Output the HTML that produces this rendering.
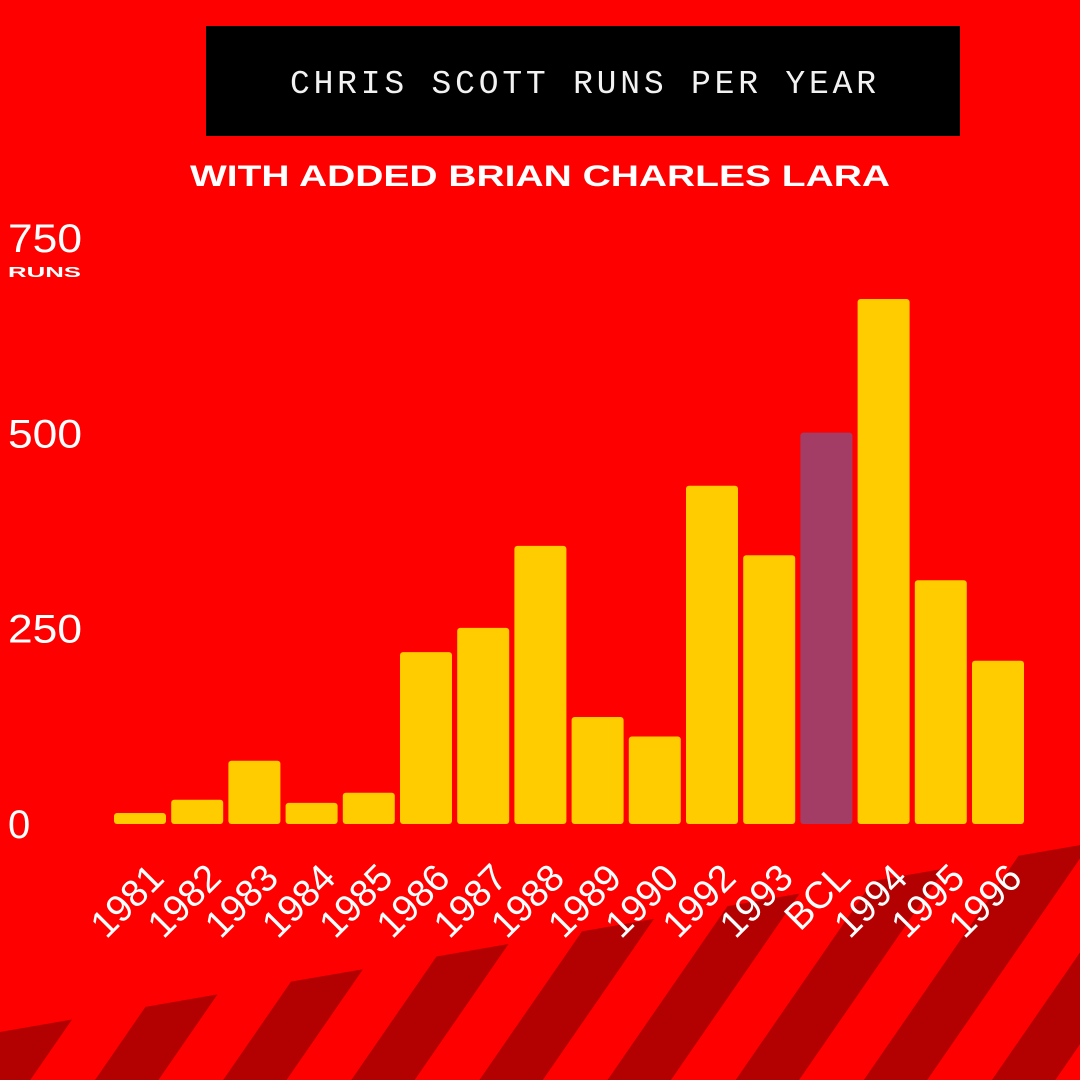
<!DOCTYPE html>
<html><head><meta charset="utf-8"><style>
html,body{margin:0;padding:0;background:#ff0000;}
svg{display:block;}
</style></head><body>
<svg id="chart" width="1080" height="1080" viewBox="0 0 1080 1080" xmlns="http://www.w3.org/2000/svg">
<rect x="0" y="0" width="1080" height="1080" fill="#ff0000"/>
<g id="stripes"></g>
<rect x="206" y="26" width="754" height="110" fill="#000"/>
<text x="290" y="93" textLength="586" lengthAdjust="spacing" fill="#f2f2f2" font-family="Liberation Mono, monospace" font-size="33">CHRIS SCOTT RUNS PER YEAR</text>
<text x="190" y="186" textLength="700" lengthAdjust="spacingAndGlyphs" fill="#fff" font-family="Liberation Sans, sans-serif" font-weight="bold" font-size="30">WITH ADDED BRIAN CHARLES LARA</text>
<text x="8" y="277" textLength="73" lengthAdjust="spacingAndGlyphs" fill="#fff" font-family="Liberation Sans, sans-serif" font-weight="bold" font-size="15">RUNS</text>
<g id="yticks"></g>
<g id="bars"></g>
<g id="xlabels"></g>
</svg>
<script>
const categories = ["1981","1982","1983","1984","1985","1986","1987","1988","1989","1990","1992","1993","BCL","1994","1995","1996"];
const runs = [14,31,81,27,40,220,251,356,137,112,433,344,501,672,312,209];
const highlight = ["BCL"];
const yTicks = [0,250,500,750];

const NS = "http://www.w3.org/2000/svg";
const baseY = 824, pxPerRun = 0.7813;
const y = v => baseY - v * pxPerRun;
const barLeft0 = 114, pitch = 57.2, barW = 52;
const x = i => barLeft0 + i * pitch;

const sg = document.getElementById('stripes');
for (let i = 0; i < 9; i++) {
  const x0 = i * 145.5, x1 = x0 + 72;
  const t0 = 1032 - 0.173 * x0, t1 = 1032 - 0.173 * x1;
  const b0 = x0 - 0.69 * (1080 - t0), b1 = x1 - 0.69 * (1080 - t1);
  const p = document.createElementNS(NS, 'polygon');
  p.setAttribute('points', `${x0},${t0} ${x1},${t1} ${b1},1080 ${b0},1080`);
  p.setAttribute('fill', '#b30000');
  
  
  sg.appendChild(p);
}

const yg = document.getElementById('yticks');
yTicks.forEach(t => {
  const tx = document.createElementNS(NS, 'text');
  tx.setAttribute('x', 8);
  tx.setAttribute('y', y(t) + 14);
  tx.setAttribute('fill', '#fff');
  tx.setAttribute('font-family', 'Liberation Sans, sans-serif');
  tx.setAttribute('font-size', '40');
  if (t > 0) { tx.setAttribute('textLength', '74'); tx.setAttribute('lengthAdjust', 'spacingAndGlyphs'); }
  tx.textContent = t;
  
  
  yg.appendChild(tx);
});

const bg = document.getElementById('bars');
const xg = document.getElementById('xlabels');
categories.forEach((c, i) => {
  const r = document.createElementNS(NS, 'rect');
  r.setAttribute('x', x(i));
  r.setAttribute('y', y(runs[i]));
  r.setAttribute('width', barW);
  r.setAttribute('height', runs[i] * pxPerRun);
  r.setAttribute('rx', 3);
  r.setAttribute('fill', highlight.includes(c) ? '#a33d66' : '#ffcc00');
  
  
  bg.appendChild(r);
  const cx = x(i) + barW / 2 + 26, cy = 880;
  const t = document.createElementNS(NS, 'text');
  t.setAttribute('x', cx);
  t.setAttribute('y', cy);
  t.setAttribute('text-anchor', 'end');
  t.setAttribute('transform', `rotate(-45 ${cx} ${cy})`);
  t.setAttribute('fill', '#fff');
  t.setAttribute('font-family', 'Liberation Sans, sans-serif');
  t.setAttribute('font-size', '38');
  t.textContent = c;
  
  
  xg.appendChild(t);
});
</script>
</body></html>
